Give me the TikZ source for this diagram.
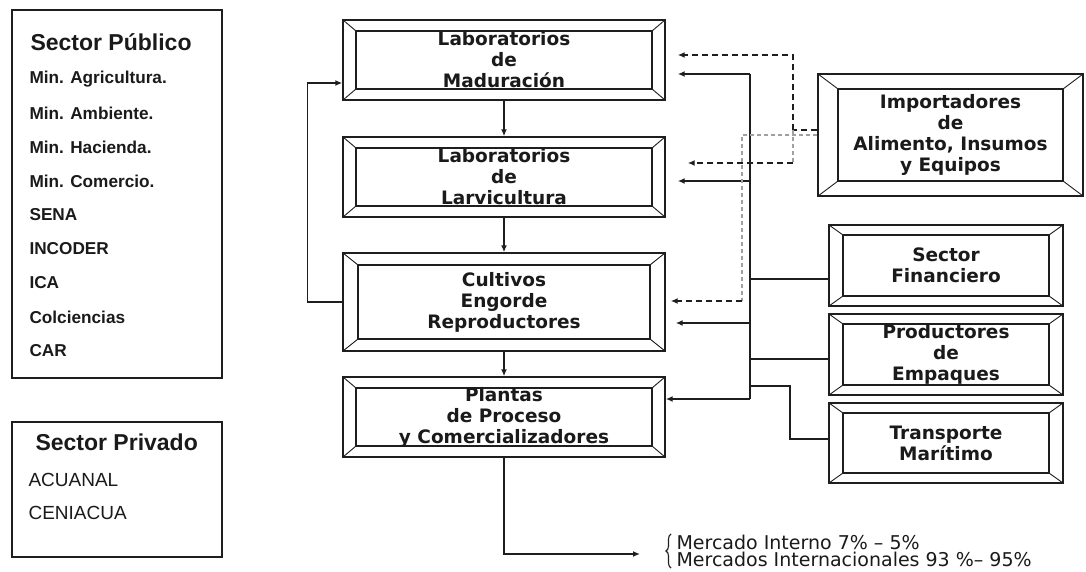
\documentclass[tikz,border=0pt]{standalone}
\usepackage{fontspec}
\usetikzlibrary{arrows.meta,calc,decorations.pathreplacing}
\newfontfamily\arialf{Liberation Sans}
\newfontfamily\verdf{DejaVu Sans}
\definecolor{lc}{HTML}{1E1E1E}
\definecolor{tc}{HTML}{1A1A1A}
\definecolor{gc}{HTML}{A0A0A0}
\begin{document}
\begin{tikzpicture}[x=1pt,y=-1pt,
 conn/.style={draw=lc, line width=1.4pt},
 arr/.style={conn, -{Latex[length=7pt,width=6pt]}},
 dsh/.style={draw=lc, line width=1.5pt, dash pattern=on 6pt off 4pt},
 darr/.style={dsh, -{Latex[length=7pt,width=6pt]}},
 gdsh/.style={draw=gc, line width=1.7pt, dash pattern=on 4pt off 3pt},
 sbox/.style={draw=lc, line width=1.5pt, inner sep=0pt, fill=white},
 title/.style={anchor=west, text=tc, font=\arialf\bfseries\fontsize{23}{24}\selectfont},
 pitem/.style={anchor=west, text=tc, font=\arialf\bfseries\fontsize{17.2}{20}\selectfont},
 ritem/.style={anchor=west, text=tc, font=\arialf\fontsize{19}{20}\selectfont},
 bevel/.style 2 args={draw=lc, line width=1.4pt, fill=white, inner sep=0pt, align=center, text=tc,
   font=\verdf\bfseries\fontsize{18.5}{21}\selectfont,
   path picture={
     \draw[lc, line width=1.2pt] ([shift={(#1pt,-#2pt)}]path picture bounding box.north west) rectangle ([shift={(-#1pt,#2pt)}]path picture bounding box.south east);
     \draw[lc, line width=0.9pt] (path picture bounding box.north west) -- ++(#1pt,-#2pt)
       (path picture bounding box.north east) -- ++(-#1pt,-#2pt)
       (path picture bounding box.south west) -- ++(#1pt,#2pt)
       (path picture bounding box.south east) -- ++(-#1pt,#2pt);
   }}
]
\useasboundingbox (0,0) rectangle (1086,572);

% left boxes
\node[sbox, minimum width=210pt, minimum height=368pt] (pub) at (117,194) {};
\node[title] (pubt) at (27,42) {Sector Público};
\foreach \t [count=\i from 0] in {Min. Agricultura.,Min. Ambiente.,Min. Hacienda.,Min. Comercio.,SENA,INCODER,ICA,Colciencias,CAR}
  \node[pitem] (pi\i) at (26,79+34*\i) {\t};

\node[sbox, minimum width=210pt, minimum height=135pt] (priv) at (117,489.5) {};
\node[title] (privt) at (32,442) {Sector Privado};
\node[ritem] (r1) at (25,480) {ACUANAL};
\node[ritem] (r2) at (25,513) {CENIACUA};

% main column
\node[bevel={13}{11}, minimum width=322pt, minimum height=80pt] (m1) at (504,60) {Laboratorios\\de\\Maduración};
\node[bevel={13}{11}, minimum width=322pt, minimum height=80pt] (m2) at (504,177) {Laboratorios\\de\\Larvicultura};
\node[bevel={15}{12}, minimum width=322pt, minimum height=98pt] (m3) at (504,302) {Cultivos\\Engorde\\Reproductores};
\node[bevel={13}{11}, minimum width=322pt, minimum height=80pt] (m4) at (504,417) {Plantas\\de Proceso\\y Comercializadores};

% right column
\node[bevel={20}{15}, minimum width=265pt, minimum height=122pt] (imp) at (950.5,135) {Importadores\\de\\Alimento, Insumos\\y Equipos};
\node[bevel={14}{10}, minimum width=234pt, minimum height=81pt] (fin) at (946,265.5) {Sector\\Financiero};
\node[bevel={14}{10}, minimum width=234pt, minimum height=81pt] (prod) at (946,354.5) {Productores\\de\\Empaques};
\node[bevel={14}{10}, minimum width=234pt, minimum height=80pt] (trans) at (946,443) {Transporte\\Marítimo};

% main flow
\draw[arr] (m1) -- (m2);
\draw[arr] (m2) -- (m3);
\draw[arr] (m3) -- (m4);
\draw[arr] (m3.west) -- ++(-35,0) |- ($(m1.west)+(0,23)$);

% solid bus
\coordinate (b1) at (750,74);
\coordinate (b2) at (750,181);
\coordinate (b3) at (750,279);
\coordinate (b4) at (750,323);
\coordinate (b5) at (750,359);
\coordinate (b6) at (750,386);
\coordinate (b7) at (750,399);
\coordinate (t1) at (790,439);
\draw[conn] (b1) -- (b7);
\draw[arr, shorten >=12pt] (b1) -- (m1.east |- b1);
\draw[arr, shorten >=12pt] (b2) -- (m2.east |- b2);
\draw[conn] (b3) -- (fin.west |- b3);
\draw[arr, shorten >=10pt] (b4) -- (m3.east |- b4);
\draw[conn] (b5) -- (prod.west |- b5);
\draw[conn] (b6) -| (t1) -- (trans.west |- t1);
\draw[arr] (b7) -- (m4.east |- b7);

% dashed from importers
\coordinate (dj) at (793,130);
\coordinate (dk) at (793,163);
\coordinate (gj) at (742,135);
\coordinate (gk) at (742,301);
\draw[dsh] ($(imp.west)+(0,-5)$) -- (dj);
\draw[darr] (dj) |- ($(m1.east)+(12,-5)$);
\draw[gdsh] (dj) -- (dk);
\draw[darr] (dk) -- ($(m2.east)+(22,-14)$);
\draw[gdsh] (imp.west) -- (gj) -- (gk);
\draw[darr] (gk) -- ($(m3.east)+(5,-1)$);

% markets
\coordinate (mk) at (640,554);
\draw[arr] (m4.south) |- (mk);
\draw[lc, line width=1.1pt, decorate, decoration={brace, amplitude=5pt}] (671,568) -- (671,534);
\node[anchor=west, align=left, text=tc, font=\verdf\fontsize{19}{17}\selectfont] (mkt) at (673,551) {Mercado Interno 7\% – 5\%\\Mercados Internacionales 93 \%– 95\%};
\end{tikzpicture}
\end{document}
